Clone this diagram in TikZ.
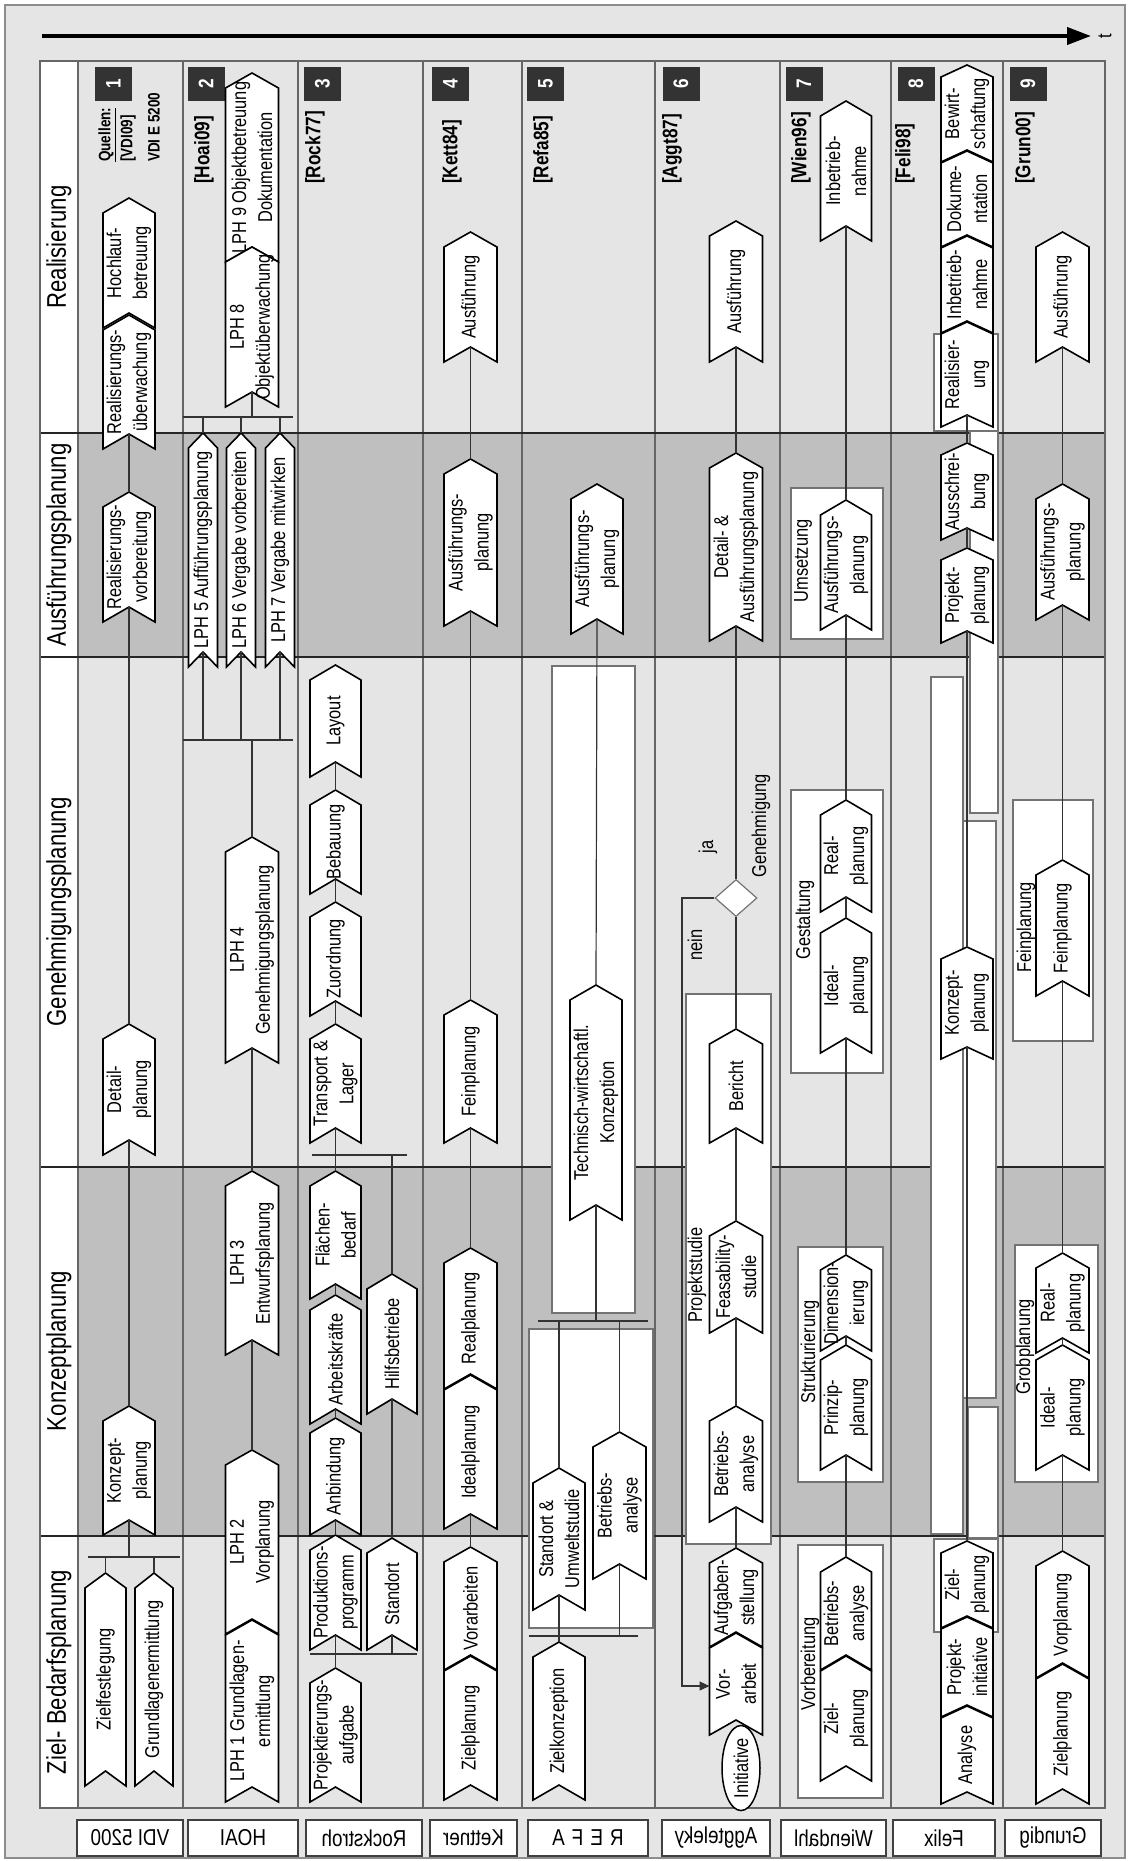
\documentclass[tikz,border=0pt]{standalone}
\usepackage{fontspec}
\setmainfont{Liberation Sans}[FakeStretch=0.82]
\usetikzlibrary{arrows.meta,shapes.geometric}

\newcommand\chfont{\fontsize{20}{26}\selectfont}
\newcommand\phfont{\fontsize{27}{32}\selectfont}
\newcommand\srcfont{\fontsize{21}{25}\selectfont\bfseries}
\newcommand\qufont{\fontsize{16.5}{20}\selectfont\bfseries}
\newcommand\numfont{\fontsize{21}{25}\selectfont\bfseries}
\newcommand\rlfont{\fontsize{23}{27}\selectfont}

% chevron: name, x centre, y tip, y bottom corners, width, text
\newcommand\chd{15}
\newcommand\chev[6]{%
  \draw[chevron] (#2,#3) -- ++(#5/2,\chd) -- ({#2+#5/2},#4) -- (#2,{#4-\chd})
    -- ({#2-#5/2},#4) -- ({#2-#5/2},{#3+\chd}) -- cycle;
  \node[chevtext] (#1) at (#2,{(#3+#4)/2}) {#6};
  \coordinate (#1-t) at (#2,#3);
  \coordinate (#1-n) at (#2,{#4-\chd});
}

\begin{document}
\begin{tikzpicture}[x=1pt,y=-1pt,
  chevron/.style={draw=black,fill=white,line width=1.6pt},
  chevtext/.style={rotate=90,align=center,font=\chfont,inner sep=0pt},
  conn/.style={draw=black!80,line width=1.2pt},
  gridln/.style={draw=black!60,line width=1.4pt},
  grpbox/.style={draw=black!55,fill=white,line width=1.3pt},
  grptext/.style={rotate=90,font=\chfont,inner sep=0pt},
  phasetext/.style={rotate=90,font=\phfont},
  numbox/.style={rotate=90,fill=black!80,text=white,font=\numfont,minimum width=34pt,minimum height=37pt,inner sep=0pt},
  srclabel/.style={rotate=90,anchor=west,font=\srcfont,inner sep=0pt},
  rowlabel/.style={xscale=-1,draw=black!75,fill=white,line width=1.3pt,font=\rlfont,minimum height=36pt,inner sep=0pt}]
\useasboundingbox (0,0) rectangle (1128,1861);
\draw[fill=black!10,draw=black!45,line width=2pt] (5,5) rectangle (1125,1858);

% time axis
\coordinate (t0) at (42,36);
\coordinate (t1) at (1091,36);
\draw[line width=4pt,-{Triangle[length=24pt,width=17pt]}] (t0) -- (t1);
\node[rotate=90,font=\chfont] (tlab) at (1105,36) {t};

% table
\fill[black!25] (78,433) rectangle (1105,657);
\fill[black!25] (78,1167) rectangle (1105,1536);
\fill[white] (40,61) rectangle (78,1808);
\foreach \x in {78,183,298,423,522,655,780,891,1003}
  \draw[gridln] (\x,61) -- (\x,1808);
\foreach \y in {433,657,1167,1536}
  \draw[gridln,black!85] (40,\y) -- (1105,\y);
\draw[gridln] (40,61) rectangle (1105,1808);

\node[phasetext] (ph1) at (59,247) {Realisierung};
\node[phasetext] (ph2) at (59,545) {Ausführungsplanung};
\node[phasetext] (ph3) at (59,912) {Genehmigungsplanung};
\node[phasetext] (ph4) at (59,1351) {Konzeptplanung};
\node[phasetext] (ph5) at (59,1672) {Ziel- Bedarfsplanung};

\foreach \x [count=\i] in {113.5,206,322.5,450.5,545.5,681,804,916,1028}
  \node[numbox] (num\i) at (\x,84) {\i};
\node[srclabel,font=\qufont] (src1a) at (107,162) {\underline{Quellen:}};
\node[srclabel,font=\qufont] (src1b) at (128,162) {[VDI09]};
\node[srclabel,font=\qufont] (src1c) at (154,162) {VDI E 5200};
\foreach \x/\t [count=\i from 2] in {204/Hoai09,315/Rock77,452/Kett84,543/Refa85,672/Aggt87,801/Wien96,905/Feli98,1025/Grun00}
  \node[srclabel] (src\i) at (\x,184) {[\t]};

% group boxes
\draw[grpbox] (552,666) rectangle (635,1313);
\draw[grpbox] (529,1329) rectangle (653,1628);
\draw[grpbox] (686,994) rectangle (771,1544);
\draw[grpbox] (791,488) rectangle (883,639);
\draw[grpbox] (791,790) rectangle (883,1073);
\draw[grpbox] (798,1247) rectangle (883,1482);
\draw[grpbox] (798,1545) rectangle (883,1798);
\draw[grpbox] (934,334) rectangle (998,431);
\draw[grpbox] (970,431) rectangle (998,813);
\draw[grpbox] (931,677) rectangle (963,1534);
\draw[grpbox] (963,821) rectangle (996,1398);
\draw[grpbox] (968,1407) rectangle (998,1538);
\draw[grpbox] (934,1539) rectangle (998,1632);
\draw[grpbox] (1013,800) rectangle (1093,1041);
\draw[grpbox] (1015,1245) rectangle (1098,1482);

% VDI 5200
\chev{hochl}{129}{198}{328}{52}{Hochlauf-\\betreuung}
\chev{realu}{129}{315}{449}{52}{Realisierungs-\\überwachung}
\chev{realv}{129}{492}{622}{52}{Realisierungs-\\vorbereitung}
\chev{detv}{129}{1024}{1155}{52}{Detail-\\planung}
\chev{konv}{129}{1406}{1535}{52}{Konzept-\\planung}
\chev{zielf}{105.5}{1573}{1786}{41}{Zielfestlegung}
\chev{grundl}{154}{1573}{1786}{38}{Grundlagenermittlung}
% HOAI
\chev{lph9}{252}{73}{262}{53}{LPH 9 Objektbetreuung\\Dokumentation}
\chev{lph8}{252}{247}{407}{53}{LPH 8\\Objektüberwachung}
\chev{lph5}{203}{433}{667}{29}{LPH 5 Aufführungsplanung}
\chev{lph6}{241}{433}{667}{29}{LPH 6 Vergabe vorbereiten}
\chev{lph7}{280}{433}{667}{29}{LPH 7 Vergabe mitwirken}
\chev{lph4}{252}{837}{1063}{53}{LPH 4\\Genehmigungsplanung}
\chev{lph3}{252}{1171}{1355}{53}{LPH 3\\Entwurfsplanung}
\chev{lph2}{252}{1450}{1634}{53}{LPH 2\\Vorplanung}
\chev{lph1}{252}{1620}{1802}{53}{LPH 1 Grundlagen-\\ermittlung}
% Rockstroh
\chev{layout}{335.5}{665}{777}{51}{Layout}
\chev{bebau}{335.5}{790}{894}{51}{Bebauung}
\chev{zuord}{335.5}{902}{1016}{51}{Zuordnung}
\chev{transp}{335.5}{1024}{1143}{51}{Transport \&\\Lager}
\chev{flaech}{335.5}{1171}{1299}{51}{Flächen-\\bedarf}
\chev{arbk}{335.5}{1295}{1424}{51}{Arbeitskräfte}
\chev{anbind}{335.5}{1418}{1535}{51}{Anbindung}
\chev{prodpr}{335.5}{1535}{1650}{51}{Produktions-\\programm}
\chev{projaufg}{335.5}{1668}{1802}{51}{Projektierungs-\\aufgabe}
\chev{hilfsb}{392}{1274}{1414}{50}{Hilfsbetriebe}
\chev{stando}{392}{1538}{1650}{50}{Standort}
% Kettner
\chev{kausf}{470.5}{232}{362}{53}{Ausführung}
\chev{kausfpl}{470.5}{459}{626}{53}{Ausführungs-\\planung}
\chev{kfein}{470.5}{1000}{1143}{53}{Feinplanung}
\chev{kreal}{470.5}{1248}{1389}{53}{Realplanung}
\chev{kideal}{470.5}{1375}{1529}{53}{Idealplanung}
\chev{kvor}{470.5}{1547}{1670}{53}{Vorarbeiten}
\chev{kziel}{470.5}{1656}{1800}{53}{Zielplanung}
% REFA
\chev{rausfpl}{597}{484}{634}{52}{Ausführungs-\\planung}
\chev{rtechn}{596}{985}{1220}{52}{Technisch-wirtschaftl.\\Konzeption}
\chev{rstand}{559}{1468}{1610}{52}{Standort \&\\Umweltstudie}
\chev{rbetr}{619.5}{1432}{1579}{53}{Betriebs-\\analyse}
\chev{rzielk}{559}{1642}{1800}{52}{Zielkonzeption}
% Aggteleky
\chev{aausf}{736}{221}{362}{53}{Ausführung}
\chev{adet}{736}{453}{641}{53}{Detail- \&\\Ausführungsplanung}
\chev{aber}{736}{1029}{1143}{53}{Bericht}
\chev{afeas}{736}{1221}{1333}{53}{Feasability-\\studie}
\chev{abetr}{736}{1406}{1522}{53}{Betriebs-\\analyse}
\chev{aaufg}{736}{1548}{1647}{53}{Aufgaben-\\stellung}
\chev{avor}{736}{1633}{1735}{53}{Vor-\\arbeit}
\node[diamond,draw=black!55,fill=white,line width=1.2pt,minimum width=42pt,minimum height=37pt,inner sep=0pt] (dec) at (736,898) {};
\node[ellipse,draw=black,fill=white,line width=1.5pt,rotate=90,minimum width=75pt,minimum height=38pt,inner sep=0pt,font=\chfont] (init) at (741,1768) {Initiative};
% Wiendahl
\chev{winb}{846}{101}{241}{51}{Inbetrieb-\\nahme}
\chev{wausfpl}{846}{500}{630}{51}{Ausführungs-\\planung}
\chev{wreal}{846}{800}{912}{51}{Real-\\planung}
\chev{wideal}{846}{918}{1053}{51}{Ideal-\\planung}
\chev{wdim}{846}{1255}{1351}{51}{Dimension-\\ierung}
\chev{wprinz}{846}{1345}{1470}{51}{Prinzip-\\planung}
\chev{wbetr}{846}{1557}{1670}{51}{Betriebs-\\analyse}
\chev{wziel}{846}{1656}{1781}{51}{Ziel-\\planung}
% Felix
\renewcommand\chd{12}
\chev{fbew}{967}{65}{162}{52}{Bewirt-\\schaftung}
\chev{fdok}{967}{151}{247}{52}{Dokume-\\ntation}
\chev{finb}{967}{236}{333}{52}{Inbetrieb-\\nahme}
\chev{freal}{967}{322}{427}{52}{Realisier-\\ung}
\chev{fauss}{967}{443}{540}{52}{Ausschrei-\\bung}
\chev{fproj}{967}{548}{643}{52}{Projekt-\\planung}
\chev{fkonz}{967}{947}{1059}{52}{Konzept-\\planung}
\chev{fziel}{967}{1541}{1628}{52}{Ziel-\\planung}
\chev{finit}{967}{1617}{1717}{52}{Projekt-\\initiative}
\chev{fana}{967}{1706}{1804}{52}{Analyse}
\renewcommand\chd{15}
% Grundig
\chev{gausf}{1062.5}{232}{362}{53}{Ausführung}
\chev{gausfpl}{1062.5}{484}{620}{53}{Ausführungs-\\planung}
\chev{gfein}{1062.5}{860}{996}{53}{Feinplanung}
\chev{greal}{1062.5}{1253}{1353}{53}{Real-\\planung}
\chev{gideal}{1062.5}{1345}{1470}{53}{Ideal-\\planung}
\chev{gvor}{1062.5}{1551}{1678}{53}{Vorplanung}
\chev{gziel}{1062.5}{1664}{1804}{53}{Zielplanung}

% connectors
\foreach \a/\b in {realu/realv,realv/detv,detv/konv,lph4/lph3,lph3/lph2,
    layout/bebau,bebau/zuord,zuord/transp,flaech/arbk,arbk/anbind,anbind/prodpr,hilfsb/stando,
    kausf/kausfpl,kausfpl/kfein,kfein/kreal,kideal/kvor,rausfpl/rtechn,
    aausf/adet,aber/afeas,afeas/abetr,abetr/aaufg,
    winb/wausfpl,wausfpl/wreal,wreal/wideal,wideal/wdim,wdim/wprinz,wprinz/wbetr,
    freal/fauss,fauss/fproj,fproj/fkonz,fkonz/fziel,
    gausf/gausfpl,gausfpl/gfein,gfein/greal,greal/gideal,gideal/gvor}
  \draw[conn] (\a-n) -- (\b-t);
% brackets
\coordinate (vbl) at (88,1557);   \coordinate (vbr) at (180,1557);
\coordinate (hb1l) at (183,417);  \coordinate (hb1r) at (293,417);
\coordinate (hb2l) at (183,740);  \coordinate (hb2r) at (293,740);
\coordinate (rb1l) at (312,1155); \coordinate (rb1r) at (407,1155);
\coordinate (rb2l) at (310,1654); \coordinate (rb2r) at (417,1654);
\coordinate (eb1l) at (538,1321); \coordinate (eb1r) at (648,1321);
\coordinate (eb2l) at (529,1636); \coordinate (eb2r) at (638,1636);
\foreach \l/\r in {vbl/vbr,hb1l/hb1r,hb2l/hb2r,rb1l/rb1r,rb2l/rb2r,eb1l/eb1r,eb2l/eb2r}
  \draw[conn] (\l) -- (\r);
\foreach \p/\b in {konv-n/vbl,zielf-t/vbl,grundl-t/vbl,
    lph8-n/hb1l,lph5-t/hb1l,lph6-t/hb1l,lph7-t/hb1l,
    lph5-n/hb2l,lph6-n/hb2l,lph7-n/hb2l,lph4-t/hb2l,
    transp-n/rb1l,flaech-t/rb1l,hilfsb-t/rb1l,
    prodpr-n/rb2l,stando-n/rb2l,projaufg-t/rb2l,
    rtechn-n/eb1l,rstand-t/eb1l,rbetr-t/eb1l,
    rstand-n/eb2l,rbetr-n/eb2l,rzielk-t/eb2l}
  \draw[conn] (\p) -- (\p |- \b);
% decision
\draw[conn] (adet-n) -- (dec.north);
\draw[conn] (dec.south) -- (aber-t);
\coordinate (neink) at (682,898);
\coordinate (vorin) at (709.5,1686);
\draw[conn,-{Triangle[length=10pt,width=9pt]}] (dec.west) -- (neink) |- (vorin);
\node[grptext] (ja) at (708,847) {ja};
\node[grptext] (nein) at (695,945) {nein};
\node[grptext] (genehm) at (761,826) {Genehmigung};

% group labels
\node[grptext] (lprojst) at (697,1275) {Projektstudie};
\node[grptext] (lumsetz) at (803,561) {Umsetzung};
\node[grptext] (lgestalt) at (805,920) {Gestaltung};
\node[grptext] (lstrukt) at (810,1352) {Strukturierung};
\node[grptext] (lvorber) at (810,1664) {Vorbereitung};
\node[grptext] (lfein) at (1026,927) {Feinplanung};
\node[grptext] (lgrob) at (1025,1347) {Grobplanung};

% row labels
\node[rowlabel,minimum width=106pt] (lvdi) at (130,1838) {VDI 5200};
\node[rowlabel,minimum width=110pt] (lhoai) at (243,1838) {HOAI};
\node[rowlabel,minimum width=116pt] (lrock) at (364,1838) {Rockstroh};
\node[rowlabel,minimum width=87pt] (lkett) at (473.5,1838) {Kettner};
\node[rowlabel,minimum width=120pt] (lrefa) at (588,1838) {R\hspace{7pt}E\hspace{7pt}F\hspace{7pt}A};
\node[rowlabel,minimum width=108pt] (lagg) at (716,1838) {Aggteleky};
\node[rowlabel,minimum width=105pt] (lwien) at (833.5,1838) {Wiendahl};
\node[rowlabel,minimum width=102pt] (lfel) at (944,1838) {Felix};
\node[rowlabel,minimum width=96pt] (lgrun) at (1053,1838) {Grundig};
\end{tikzpicture}
\end{document}
